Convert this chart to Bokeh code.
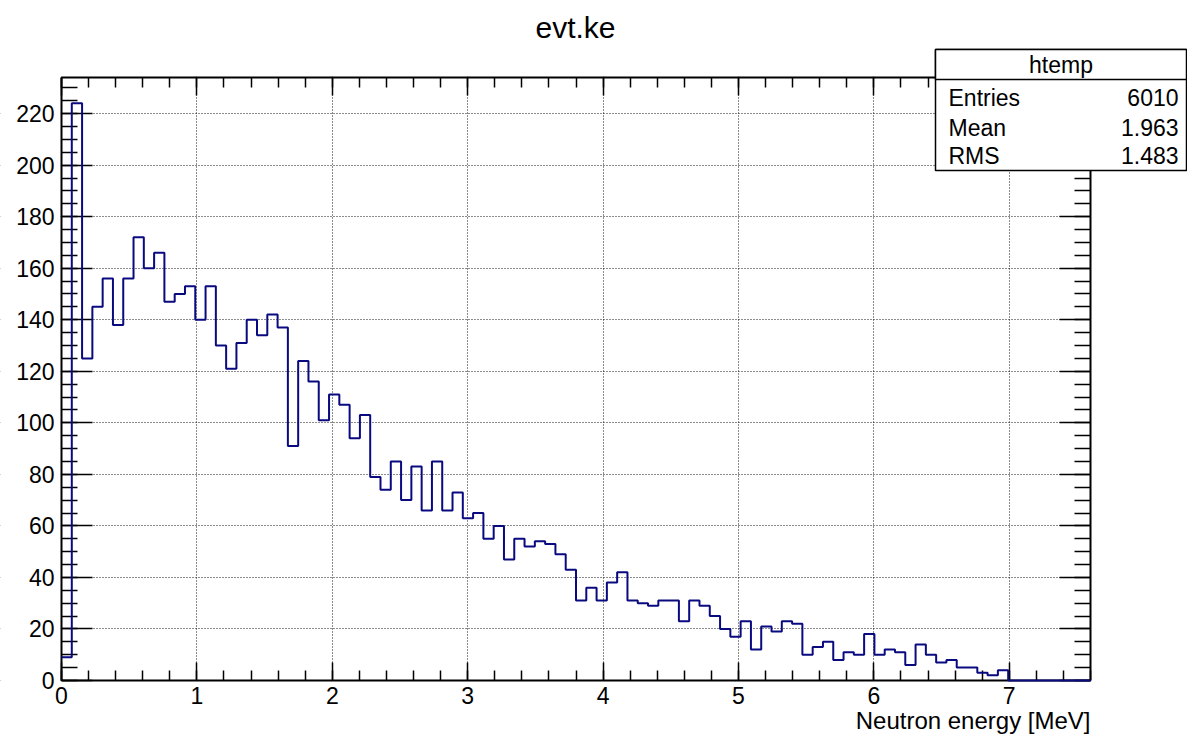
import numpy as np
from bokeh.plotting import figure
from bokeh.models import (FixedTicker, LinearAxis, Range1d, BoxAnnotation, Label, Grid,
                          CustomJSTickFormatter, ColumnDataSource)
from bokeh.embed import file_html
from bokeh.resources import INLINE

# ---------------- data ----------------
hist_name = "htemp"
plot_title = "evt.ke"
x_label = "Neutron energy [MeV]"
x_min = 0.0
x_max = 7.6
counts = [9, 224, 125, 145, 156, 138, 156, 172, 160, 166,
          147, 150, 153, 140, 153, 130, 121, 131, 140, 134,
          142, 137, 91, 124, 116, 101, 111, 107, 94, 103,
          79, 74, 85, 70, 83, 66, 85, 66, 73, 63,
          65, 55, 60, 47, 55, 52, 54, 53, 49, 43,
          31, 36, 31, 38, 42, 31, 30, 29, 31, 31,
          23, 31, 29, 25, 20, 17, 23, 12, 21, 19,
          23, 22, 10, 13, 15, 8, 11, 10, 18, 10,
          12, 11, 6, 14, 10, 7, 8, 5, 5, 3,
          2, 4, 0, 0, 0, 0, 0, 0, 0, 0]
x_ticks = [0, 1, 2, 3, 4, 5, 6, 7]
y_ticks = [0, 20, 40, 60, 80, 100, 120, 140, 160, 180, 200, 220]
y_max = 234
stats_names = ["Entries", "Mean", "RMS"]
stats_values = ["6010", "1.963", "1.483"]

# ---------------- geometry (canvas pixels) ----------------
W, H = 1187, 734
LEFT, RIGHT, TOP, BOTTOM = 61, 1090, 77, 680
FW, FH = RIGHT - LEFT, BOTTOM - TOP
FONT = "Liberation Sans"

# the drawing frame covers the whole canvas; the histogram pad is placed by the ranges
sx = (x_max - x_min) / FW
sy = y_max / FH
xr = Range1d(x_min - LEFT * sx, x_max + (W - RIGHT) * sx)
yr_ = Range1d(0 - (H - BOTTOM) * sy, y_max + TOP * sy)


def scr_y(cy):
    return H - cy


edges = np.linspace(x_min, x_max, len(counts) + 1)
step_y = list(counts) + [counts[-1]]
src = ColumnDataSource(dict(x=edges, y=step_y))

p = figure(width=W, height=H, x_range=xr, y_range=yr_,
           output_backend="svg", toolbar_location=None,
           min_border=0, min_border_left=0, min_border_right=0,
           min_border_top=0, min_border_bottom=0,
           x_axis_type=None, y_axis_type=None)
p.outline_line_color = None
p.background_fill_color = "white"
p.border_fill_color = "white"

x_minor = [round(0.2 * i, 1) for i in range(39)]
y_minor = list(range(0, 235, 5))
xt = FixedTicker(ticks=x_ticks, minor_ticks=x_minor)
yt = FixedTicker(ticks=y_ticks, minor_ticks=y_minor)

gx = Grid(dimension=0, ticker=xt, grid_line_color="black", grid_line_dash="1 2",
          grid_line_width=1, grid_line_alpha=0.9)
gy = Grid(dimension=1, ticker=yt, grid_line_color="black", grid_line_dash="1 2",
          grid_line_width=1, grid_line_alpha=0.9)
p.add_layout(gx)
p.add_layout(gy)

# white margins hide the grid outside the pad (drawn under the axes)
for l, r, b, t in [(0, LEFT - 1, 0, H), (RIGHT + 1, W, 0, H),
                   (0, W, scr_y(TOP) + 1, H), (0, W, 0, scr_y(BOTTOM) - 1)]:
    p.add_layout(BoxAnnotation(left=l, right=r, bottom=b, top=t,
                               left_units="screen", right_units="screen",
                               bottom_units="screen", top_units="screen",
                               fill_color="white", fill_alpha=1.0, line_color=None,
                               level="underlay"))


def style(ax, major_in, minor_in, labels):
    ax.major_tick_in = major_in
    ax.major_tick_out = 0
    ax.minor_tick_in = minor_in
    ax.minor_tick_out = 0
    ax.axis_line_color = "black"
    ax.axis_line_width = 2
    ax.major_tick_line_color = "black"
    ax.major_tick_line_width = 1.5
    ax.minor_tick_line_color = "black"
    ax.minor_tick_line_width = 1.5
    ax.major_label_text_font = FONT
    ax.major_label_text_font_size = "23px"
    ax.major_label_text_color = "black"
    if not labels:
        ax.formatter = CustomJSTickFormatter(code="return ''")
        ax.major_label_text_font_size = "1px"


xb = LinearAxis(ticker=xt, fixed_location=0, bounds=(x_min, x_max))
style(xb, 18, 10, True)
xb.major_label_standoff = 6
p.add_layout(xb, "below")
yl = LinearAxis(ticker=yt, fixed_location=x_min, bounds=(0, y_max))
style(yl, 31, 16, True)
yl.major_label_standoff = 7
p.add_layout(yl, "left")
xa = LinearAxis(ticker=xt, fixed_location=y_max, bounds=(x_min, x_max))
style(xa, 18, 10, False)
p.add_layout(xa, "above")
yr = LinearAxis(ticker=yt, fixed_location=x_max, bounds=(0, y_max))
style(yr, 31, 16, False)
p.add_layout(yr, "right")

p.step(x="x", y="y", source=src, mode="after", line_color="#0a0a80", line_width=2,
       level="overlay")

# title and axis label
p.add_layout(Label(x=575, y=scr_y(27), x_units="screen", y_units="screen",
                   text=plot_title, text_align="center", text_baseline="middle",
                   text_font=FONT, text_font_size="30px", text_color="black"))
p.add_layout(Label(x=RIGHT, y=scr_y(720), x_units="screen", y_units="screen",
                   text=x_label, text_align="right", text_baseline="middle",
                   text_font=FONT, text_font_size="24px", text_color="black"))

# stats box
bx0, bx1 = 935, 1186
by_top, by_head, by_bot = scr_y(49), scr_y(79), scr_y(170)
for b, t in [(by_bot, by_top), (by_head, by_top)]:
    p.add_layout(BoxAnnotation(left=bx0, right=bx1, bottom=b, top=t,
                               left_units="screen", right_units="screen",
                               bottom_units="screen", top_units="screen",
                               fill_color="white", fill_alpha=1.0,
                               line_color="black", line_width=1.5, line_alpha=1.0,
                               level="overlay"))
p.add_layout(Label(x=(bx0 + bx1) / 2, y=(by_top + by_head) / 2, x_units="screen", y_units="screen",
                   text=hist_name, text_align="center", text_baseline="middle",
                   text_font=FONT, text_font_size="23px", text_color="black", level="overlay"))
row_y = [scr_y(97), scr_y(127), scr_y(155)]
for name, val, ry in zip(stats_names, stats_values, row_y):
    p.add_layout(Label(x=948, y=ry, x_units="screen", y_units="screen",
                       text=name, text_align="left", text_baseline="middle",
                       text_font=FONT, text_font_size="23px", text_color="black",
                       level="overlay"))
    p.add_layout(Label(x=1178, y=ry, x_units="screen", y_units="screen",
                       text=val, text_align="right", text_baseline="middle",
                       text_font=FONT, text_font_size="23px", text_color="black",
                       level="overlay"))

open("out.html", "w").write(file_html(p, INLINE))
